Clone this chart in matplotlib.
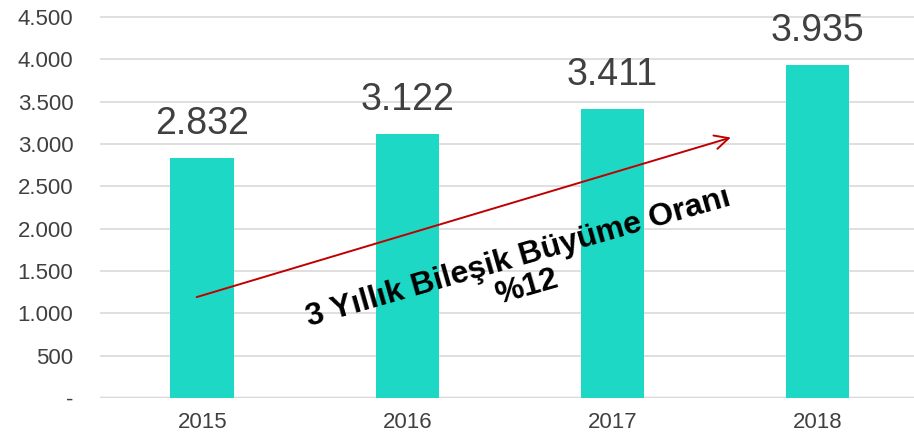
import matplotlib.pyplot as plt
from matplotlib.ticker import FuncFormatter

years = ['2015', '2016', '2017', '2018']
values = [2832, 3122, 3411, 3935]
value_labels = ['2.832', '3.122', '3.411', '3.935']
yticks = [0, 500, 1000, 1500, 2000, 2500, 3000, 3500, 4000, 4500]
cagr_text = '3 Yıllık Bileşik Büyüme Oranı\n%12'


def fmt(v, pos):
    if v == 0:
        return '-'
    return f'{int(v):,}'.replace(',', '.')


def main():
    plt.rcParams['font.family'] = ['Liberation Sans', 'DejaVu Sans']
    fig = plt.figure(figsize=(9.14, 4.43), dpi=100)
    ax = fig.add_axes([0.109, 0.1016, 0.891, 0.8984])

    x = range(len(years))
    ax.bar(x, values, width=0.31, color='#1DD8C5', zorder=2)

    for xi, v, lab in zip(x, values, value_labels):
        ax.text(xi, v + 190, lab, ha='center', va='bottom', fontsize=27, color='#404040')

    ax.set_xlim(-0.5, 3.47)
    ax.set_ylim(0, 4700)
    ax.set_yticks(yticks)
    ax.yaxis.set_major_formatter(FuncFormatter(fmt))
    ax.grid(axis='y', color='#dcdcdc', linewidth=1.3, zorder=0)
    ax.axhline(0, color='#d0d0d0', linewidth=2.5, zorder=1)

    for s in ax.spines.values():
        s.set_visible(False)
    ax.tick_params(axis='y', length=0, pad=19, labelsize=16, labelcolor='#404040')
    ax.tick_params(axis='x', length=0, pad=10, labelsize=16, labelcolor='#404040')
    ax.set_xticks(list(x))
    ax.set_xticklabels(years)

    # CAGR arrow and text
    ax.annotate('', xy=(2.59, 3085), xytext=(-0.04, 1182),
                arrowprops=dict(arrowstyle='->', color='#C00000', lw=1.4,
                                mutation_scale=25), zorder=4)
    ax.text(1.56, 1480, cagr_text, rotation=16, rotation_mode='anchor',
            ha='center', va='center', fontsize=23, fontweight='bold',
            color='black', linespacing=1.0, zorder=5)

    plt.savefig('out.png', dpi=100)
    plt.close()


if __name__ == '__main__':
    main()
